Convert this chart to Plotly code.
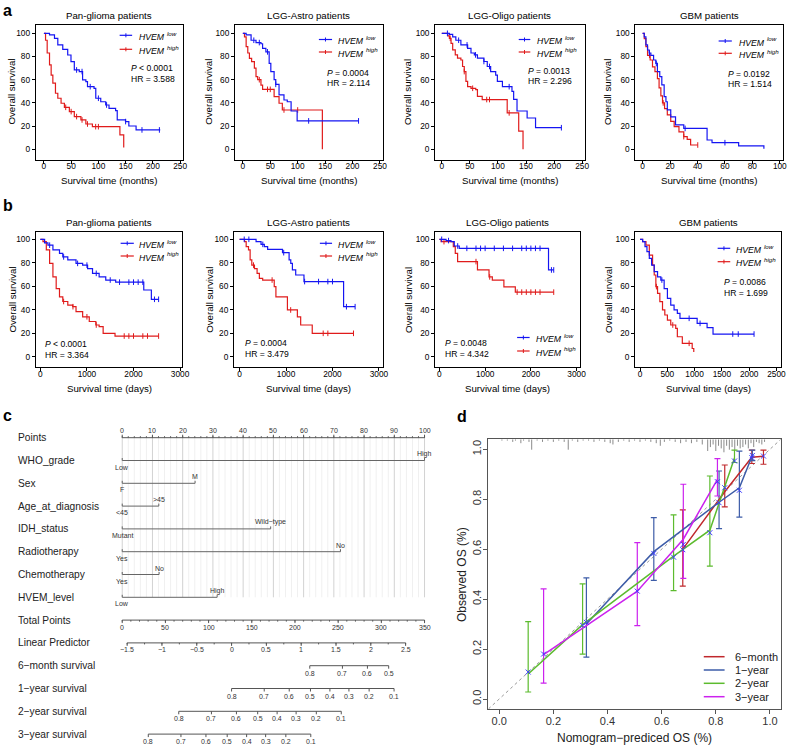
import numpy as np
import plotly.graph_objects as go

# ====================== DATA ======================
# ---- Panel a : survival (months) ----
a1_low_t = [0, 10.3, 19.4, 25.5, 34.6, 43.7, 49.7, 55.8, 64.9, 71, 77, 80, 92, 95.2, 104.3, 113.4, 119.5, 131.6, 134.6, 149.8, 155.9, 169.2, 213.5]
a1_low_s = [100, 98.6, 95.7, 90, 86.2, 81.3, 75.6, 68.4, 67, 59.8, 58.3, 54, 52.6, 44, 41, 38.2, 35.3, 33.3, 25.3, 23.9, 20.1, 16.7, 16.7]
a1_high_t = [0, 3, 6, 10.3, 13.3, 16.4, 21.2, 25.5, 31.5, 37.6, 46.7, 55.8, 67.9, 77, 89, 139.5, 146.5]
a1_high_s = [100, 94, 83, 72.7, 64, 57, 48.3, 44, 39.7, 36.2, 32.5, 28.2, 25.3, 21.8, 19.5, 12.4, 1.5]
a1_low_cens = [60, 70, 85, 100, 115, 150, 180, 212]
a1_high_cens = [40, 50, 60, 70, 80, 95, 100]

a2_low_t = [0, 6, 15, 24, 33, 36, 42, 48, 51, 57, 60, 66, 75, 81, 88, 99, 211]
a2_low_s = [100, 98.6, 94, 92, 91, 87, 84, 74, 67, 60, 56, 47, 42.5, 41, 33, 24.5, 24.5]
a2_high_t = [0, 3, 6, 9, 12, 16, 21, 24, 27, 33, 36, 57, 66, 72, 145]
a2_high_s = [100, 97, 88.5, 83, 78.4, 75.6, 70, 62.6, 60, 55.4, 51.7, 45.4, 39.7, 33.9, 0]
a2_low_cens = [20, 30, 45, 60, 120, 211]
a2_high_cens = [30, 45, 50, 75, 100]

a3_low_t = [0, 13.5, 19.4, 25, 34, 46, 52, 58, 63.5, 75, 81, 87, 96, 99, 108, 125, 128, 134, 152, 167, 213]
a3_low_s = [100, 99, 97, 94, 90, 87, 83, 81.4, 78.6, 75.7, 71.4, 67, 64, 58.6, 54, 50, 43, 33, 27, 18.6, 18.6]
a3_high_t = [0, 10.6, 13.5, 16.5, 19.4, 24, 28, 34, 37, 40, 43, 46, 52, 60.5, 63.5, 72, 116.5, 137, 144.7]
a3_high_s = [100, 97.7, 95.7, 91.4, 85.7, 81.4, 78.6, 77, 71.4, 67, 58.6, 54, 52.6, 51.4, 45.7, 42.9, 31.4, 15.7, 0]
a3_low_cens = [10, 30, 45, 60, 75, 85, 120, 213]
a3_high_cens = [15, 40, 55, 80, 85, 120]

a4_low_t = [0, 1.2, 2.4, 3.6, 4.8, 6, 8, 9.6, 10.8, 12.5, 14, 15.7, 17, 18, 20.5, 24, 30, 47, 50.6, 70, 88.4]
a4_low_s = [100, 97, 90, 85.6, 83, 81, 77, 74, 67, 62.6, 55.5, 45.4, 41, 34, 28, 21, 18, 8, 5.7, 2.9, 0.5]
a4_high_t = [0, 1.2, 2.4, 3.6, 5.5, 7.2, 9, 10.8, 12, 13.3, 14.5, 16, 18, 20.5, 23, 26.5, 30, 32.5, 35, 40.2]
a4_high_s = [100, 95.4, 88.5, 81, 77, 71, 67, 61, 53, 46, 40, 35, 29.6, 24, 19.5, 15, 10.9, 8.6, 3.7, 3.7]
a4_low_cens = [5, 10, 31, 60]
a4_high_cens = [5, 15, 30, 40.2]

# ---- Panel b : survival (days) ----
b1_low_t = [0, 92, 163, 270, 411, 482, 589, 766, 908, 1014, 1120, 1262, 1404, 1617, 2220, 2383, 2539]
b1_low_s = [100, 97, 95, 91, 88, 85, 82.4, 79.5, 78, 75, 71, 68, 65.3, 63.5, 56.8, 48.9, 48.9]
b1_high_t = [0, 57, 128, 199, 270, 340, 411, 482, 589, 695, 766, 908, 1050, 1191, 1262, 1348, 1603, 2539]
b1_high_s = [100, 98, 91, 79.5, 68, 58, 51, 47, 44, 42.6, 38.4, 34, 30, 27, 25.6, 19.9, 17.6, 17.6]
b1_low_cens = [200, 500, 800, 1000, 1200, 1500, 1700, 1900, 2000, 2100, 2200, 2450, 2539]
b1_high_cens = [500, 700, 1000, 1200, 1800, 1900, 2000, 2200, 2300, 2539]

b2_low_t = [0, 355, 462, 533, 604, 924, 1066, 1102, 1137, 1208, 1386, 2239, 2487]
b2_low_s = [100, 98, 95.7, 93.8, 91.5, 88.6, 82.4, 79.5, 74, 69.6, 64, 42.6, 42.6]
b2_high_t = [0, 107, 142, 192, 227, 263, 320, 377, 426, 497, 746, 782, 1030, 1244, 1315, 1564, 2452]
b2_high_s = [100, 98, 93.8, 91, 82.4, 78, 75, 71, 66.8, 65.3, 59.7, 51, 39.8, 34, 27, 19.9, 19.9]
b2_low_cens = [100, 200, 500, 950, 1400, 1700, 1900, 2000, 2300, 2487]
b2_high_cens = [300, 700, 1100, 1800, 1900, 2452]

b3_low_t = [0, 145, 253, 325, 434, 2386, 2500]
b3_low_s = [100, 98.9, 98, 94.3, 92.3, 73.9, 73.9]
b3_high_t = [0, 36, 304, 347, 398, 832, 1085, 1157, 1410, 1660, 2500]
b3_high_s = [100, 98, 93.8, 88, 81, 73.9, 68, 65.3, 59.5, 55, 55]
b3_low_cens = [50, 200, 400, 600, 800, 900, 1000, 1200, 1400, 1600, 1800, 1900, 2000, 2100, 2200, 2450, 2500]
b3_high_cens = [100, 800, 1100, 1700, 1800, 1900, 2000, 2100, 2200, 2500]

b4_low_t = [0, 48, 91, 127, 170, 212, 260, 321, 381, 442, 502, 563, 624, 684, 732, 1047, 1229, 1338, 2090]
b4_low_s = [100, 98, 93.8, 89.5, 83.8, 78, 72.4, 68, 65.3, 58, 49.7, 44, 39.8, 36.9, 32.7, 28.4, 24.7, 19.3, 19.3]
b4_high_t = [0, 48, 109, 170, 230, 260, 290, 321, 363, 412, 454, 502, 563, 654, 684, 775, 956, 985]
b4_high_s = [100, 98, 95, 86.6, 78, 69.6, 59.7, 54, 46.9, 39.8, 35.5, 31.2, 27, 24.1, 17, 11.4, 7, 4]
b4_low_cens = [400, 900, 1100, 1700, 1800, 2090]
b4_high_cens = [300, 600, 900]

titles = ["Pan-glioma patients", "LGG-Astro patients", "LGG-Oligo patients", "GBM patients"]
p_rel_a = ["&lt; 0.0001", "= 0.0004", "= 0.0013", "= 0.0192"]
hr_text_a = ["HR = 3.588", "HR = 2.114", "HR = 2.296", "HR = 1.514"]
p_rel_b = ["&lt; 0.0001", "= 0.0004", "= 0.0048", "= 0.0086"]
hr_text_b = ["HR = 3.364", "HR = 3.479", "HR = 4.342", "HR = 1.699"]
xmax_a = [250, 250, 250, 100]
dtick_a = [50, 50, 50, 20]
xmax_b = [3000, 3000, 3000, 2500]
dtick_b = [1000, 1000, 1000, 500]
y_ticks_km = [0, 20, 40, 60, 80, 100]

# ---- Panel c : nomogram ----
nomo_vars = ["WHO_grade", "Sex", "Age_at_diagnosis", "IDH_status", "Radiotherapy", "Chemotherapy", "HVEM_level"]
nomo_low_labels = ["Low", "F", "&lt;45", "Mutant", "Yes", "Yes", "Low"]
nomo_high_labels = ["High", "M", "&gt;45", "Wild\u2212type", "No", "No", "High"]
nomo_high_points = [100, 24.1, 12.1, 49.1, 72.2, 12.2, 31.4]
points_ticks = list(range(0, 101, 10))
total_points_ticks = [0, 50, 100, 150, 200, 250, 300, 350]
total_points_max = 350
lp_total_at_zero = 126.6
lp_total_per_unit = 80.6
lp_ticks = [-1.5, -1, -0.5, 0, 0.5, 1, 1.5, 2, 2.5]
surv_rows = ["6\u2212month survival", "1\u2212year survival", "2\u2212year survival", "3\u2212year survival"]
surv_baseline = [0.930, 0.800, 0.621, 0.478]
surv_ticks = [[0.8, 0.7, 0.6, 0.5],
              [0.8, 0.7, 0.6, 0.5, 0.4, 0.3, 0.2, 0.1],
              [0.8, 0.7, 0.6, 0.5, 0.4, 0.3, 0.2, 0.1],
              [0.8, 0.7, 0.6, 0.5, 0.4, 0.3, 0.2, 0.1]]

# ---- Panel d : calibration ----
cal_names = ["6\u2212month", "1\u2212year", "2\u2212year", "3\u2212year"]
m6_pred = [0.678, 0.833, 0.933, 0.976]
m6_obs = [0.600, 0.830, 0.968, 0.972]
m6_lo = [0.452, 0.769, 0.943, 0.940]
m6_hi = [0.757, 0.937, 0.997, 0.997]
m6_corr = [0.598, 0.846, 0.967, 0.973]
y1_pred = [0.322, 0.571, 0.812, 0.887, 0.935]
y1_obs = [0.300, 0.590, 0.788, 0.846, 0.975]
y1_lo = [0.168, 0.475, 0.682, 0.728, 0.955]
y1_hi = [0.485, 0.726, 0.913, 0.993, 0.997]
y1_corr = [0.307, 0.583, 0.786, 0.836, 0.975]
y2_pred = [0.107, 0.308, 0.644, 0.778, 0.869]
y2_obs = [0.100, 0.298, 0.572, 0.676, 0.965]
y2_lo = [0.028, 0.180, 0.434, 0.532, 0.947]
y2_hi = [0.310, 0.461, 0.737, 0.893, 0.997]
y2_corr = [0.108, 0.295, 0.568, 0.666, 0.953]
y3_pred = [0.164, 0.510, 0.680, 0.806]
y3_obs = [0.178, 0.432, 0.640, 0.880]
y3_lo = [0.064, 0.294, 0.483, 0.813]
y3_hi = [0.441, 0.626, 0.860, 0.963]
y3_corr = [0.180, 0.432, 0.619, 0.870]
cal_ticks = [0.0, 0.2, 0.4, 0.6, 0.8, 1.0]
rug_x = [0.01, 0.03, 0.05, 0.06, 0.08, 0.09, 0.11, 0.12, 0.14, 0.16, 0.18, 0.20, 0.22, 0.24, 0.255,
         0.27, 0.29, 0.31, 0.33, 0.35, 0.37, 0.39, 0.41, 0.42, 0.44, 0.46, 0.48, 0.50, 0.52, 0.54,
         0.56, 0.58, 0.595, 0.61, 0.63, 0.65, 0.67, 0.69, 0.71, 0.73, 0.75, 0.77, 0.78, 0.79, 0.80,
         0.81, 0.82, 0.83, 0.84, 0.85, 0.86, 0.87, 0.88, 0.89, 0.90, 0.91, 0.92, 0.93, 0.94, 0.95,
         0.96, 0.97, 0.98]
rug_count = [1, 1, 2, 1, 3, 1, 2, 8, 1, 2, 1, 2, 1, 2, 8,
             1, 2, 1, 1, 2, 1, 2, 3, 4, 2, 1, 2, 1, 2, 1,
             2, 3, 5, 2, 1, 2, 3, 2, 3, 2, 4, 9, 6, 4, 9,
             5, 7, 10, 5, 8, 6, 9, 5, 7, 6, 4, 7, 3, 6, 2,
             3, 4, 2]

# ====================== FIGURE ======================
W, H = 798, 747
FONT = "Liberation Sans, Arial, Helvetica, sans-serif"
BLUE = "#1515f2"
RED = "#e01b1b"
CAL_COLORS = ["#c0282c", "#3d5ca8", "#5cbb2e", "#cc22ee"]


def fx(p):
    return p / W


def fy(p):
    return 1 - p / H


def step_at(t, s, tc):
    t = np.asarray(t, float)
    s = np.asarray(s, float)
    idx = np.searchsorted(t, np.asarray(tc, float), side="right") - 1
    return s[np.clip(idx, 0, len(s) - 1)]


fig = go.Figure()
lay = {}
ann = []
shp = []


def names(n):
    xs = "x" if n == 1 else f"x{n}"
    ys = "y" if n == 1 else f"y{n}"
    xk = "xaxis" if n == 1 else f"xaxis{n}"
    yk = "yaxis" if n == 1 else f"yaxis{n}"
    return xs, ys, xk, yk


def text(x, y, s, size, xanchor="center", yanchor="middle", angle=0, color="#000", weight="normal",
         style="normal", **kw):
    d = dict(x=x, y=y, text=s, showarrow=False, xanchor=xanchor, yanchor=yanchor,
             textangle=angle, font=dict(size=size, color=color, family=FONT, weight=weight, style=style))
    d.setdefault("xref", "paper")
    d.setdefault("yref", "paper")
    d.update(kw)
    ann.append(d)


# ---------- KM panels ----------
km_data = [
    (a1_low_t, a1_low_s, a1_high_t, a1_high_s, a1_low_cens, a1_high_cens),
    (a2_low_t, a2_low_s, a2_high_t, a2_high_s, a2_low_cens, a2_high_cens),
    (a3_low_t, a3_low_s, a3_high_t, a3_high_s, a3_low_cens, a3_high_cens),
    (a4_low_t, a4_low_s, a4_high_t, a4_high_s, a4_low_cens, a4_high_cens),
    (b1_low_t, b1_low_s, b1_high_t, b1_high_s, b1_low_cens, b1_high_cens),
    (b2_low_t, b2_low_s, b2_high_t, b2_high_s, b2_low_cens, b2_high_cens),
    (b3_low_t, b3_low_s, b3_high_t, b3_high_s, b3_low_cens, b3_high_cens),
    (b4_low_t, b4_low_s, b4_high_t, b4_high_s, b4_low_cens, b4_high_cens),
]
# frame left, right, px of x=0, px of x=max
frames = [(36, 184.5, 44.3, 181.7), (237, 386, 245, 383.3), (439, 590, 445.7, 587.3), (641, 790, 648.3, 786.7),
          (36, 184, 40.7, 181.7), (236, 386.7, 241.7, 382.3), (439, 585, 443.3, 581.7), (640.7, 788.3, 645.7, 783.3)]
rows = [dict(t=25, b=159.5, y100=33.3, y0=149.3, title=15, xt=180, yt=92),
        dict(t=232.3, b=366.7, y100=239.3, y0=356.7, title=222.7, xt=388, yt=300)]
ytitle_x = [11.7, 210.7, 411.7, 613.3]
p_pos = [(130, 68.3), (328.3, 72.7), (530.7, 70.7), (732.3, 74),
         (43.3, 344.3), (245, 343.3), (446.7, 343.3), (728.3, 282.3)]
leg_pos = [(120.7, 133.3, 35.3, 49.3, 138.3), (321.7, 335, 39.5, 52, 339.3), (523.3, 535, 39.5, 52, 540),
           (725, 738.3, 41, 53.3, 743.3), (121.7, 135, 243.3, 256, 138.3), (322.7, 335, 243.3, 256, 339.3),
           (521.7, 534.3, 337.5, 351, 538.3), (724, 736.7, 248.3, 261.7, 740.7)]

for i in range(8):
    n = i + 1
    xs, ys, xk, yk = names(n)
    r = rows[i // 4]
    l, rr, z, m = frames[i]
    xmax = (xmax_a + xmax_b)[i]
    dt = (dtick_a + dtick_b)[i]
    sc = (m - z) / xmax
    xr = [(l - z) / sc, (rr - z) / sc]
    ysc = (r["y0"] - r["y100"]) / 100
    yr = [-(r["b"] - r["y0"]) / ysc, 100 + (r["y100"] - r["t"]) / ysc]
    axis_common = dict(showline=True, mirror=True, linecolor="#000", linewidth=1, ticks="outside",
                       ticklen=3, tickwidth=1, tickcolor="#000", showgrid=False, zeroline=False,
                       tickfont=dict(size=8.3, color="#000", family=FONT))
    lay[xk] = dict(domain=[fx(l), fx(rr)], range=xr, anchor=ys, ticklabelstandoff=-4,
                   tickvals=list(range(0, xmax + 1, dt)), **axis_common)
    lay[yk] = dict(domain=[fy(r["b"]), fy(r["t"])], range=yr, anchor=xs,
                   tickvals=y_ticks_km, **axis_common)
    lt, ls, ht, hs, lc, hc = km_data[i]
    for tt, ss, cc, col in ((ht, hs, hc, RED), (lt, ls, lc, BLUE)):
        fig.add_trace(go.Scatter(x=tt, y=ss, mode="lines", line=dict(color=col, width=1.2, shape="hv"),
                                 xaxis=xs, yaxis=ys, hoverinfo="skip"))
        fig.add_trace(go.Scatter(x=cc, y=step_at(tt, ss, cc), mode="markers",
                                 marker=dict(symbol="line-ns", size=4, line=dict(color=col, width=1)),
                                 xaxis=xs, yaxis=ys, hoverinfo="skip"))
    cx = (l + rr) / 2
    text(fx(cx), fy(r["title"]), titles[i % 4], 9.7)
    unit = "months" if i < 4 else "days"
    text(fx(cx), fy(r["xt"]), f"Survival time ({unit})", 9.7)
    text(fx(ytitle_x[i % 4]), fy(r["yt"]), "Overall survival", 9.7, angle=-90)
    prel = (p_rel_a + p_rel_b)[i]
    hrtxt = (hr_text_a + hr_text_b)[i]
    px_, py_ = p_pos[i]
    text(fx(px_), fy(py_), "P", 8.6, xanchor="left", style="italic")
    text(fx(px_ + 8.1), fy(py_), prel, 8.6, xanchor="left")
    text(fx(px_), fy(py_ + 10.3), hrtxt, 8.6, xanchor="left")
    x0, x1, yl, yh, tx = leg_pos[i]
    for yy, col, lab in ((yl, BLUE, "low"), (yh, RED, "high")):
        shp.append(dict(type="line", xref="paper", yref="paper", x0=fx(x0), x1=fx(x1), y0=fy(yy), y1=fy(yy),
                        line=dict(color=col, width=1.2)))
        xm = (x0 + x1) / 2
        shp.append(dict(type="line", xref="paper", yref="paper", x0=fx(xm), x1=fx(xm), y0=fy(yy - 2), y1=fy(yy + 2),
                        line=dict(color=col, width=1)))
        text(fx(tx), fy(yy + 1.5), "HVEM", 8.7, xanchor="left", style="italic")
        text(fx(tx + 28.3), fy(yy - 2.2), lab, 6.2, xanchor="left", style="italic")

# ---------- Nomogram (panel c) ----------
ROW0, ROWH = 437.7, 22.8
PT_PX = 3.05
nx0 = 123.3
lay["xaxis9"] = dict(domain=[fx(nx0 - 2 * PT_PX), fx(nx0 + 102 * PT_PX)], range=[-2, 102], anchor="y9", visible=False)
top_px, bot_px = 420, 747
lay["yaxis9"] = dict(domain=[fy(bot_px), fy(top_px)],
                     range=[(bot_px - ROW0) / ROWH, (top_px - ROW0) / ROWH], anchor="x9", visible=False)
pxr = 1 / ROWH  # one pixel in row units


def segs(pairs):
    xs_, ys_ = [], []
    for (xa, ya, xb, yb) in pairs:
        xs_ += [xa, xb, None]
        ys_ += [ya, yb, None]
    return xs_, ys_


def nomo_line(pairs, color, width=1):
    xx, yy = segs(pairs)
    fig.add_trace(go.Scatter(x=xx, y=yy, mode="lines", line=dict(color=color, width=width),
                             xaxis="x9", yaxis="y9", hoverinfo="skip"))


# grid
minor_grid = [v for v in np.arange(0, 100.1, 2) if v % 10 != 0]
nomo_line([(v, 0, v, 7) for v in minor_grid], "#f0f0f0", 1)
nomo_line([(v, 0, v, 7) for v in points_ticks], "#d2d2d2", 1)

AX = "#555"
LBL = 7
# Points axis (row 0) with ticks up, labels above
nomo_line([(0, 0, 100, 0)], AX)
nomo_line([(v, 0, v, -3 * pxr) for v in points_ticks] +
          [(v, 0, v, -1.5 * pxr) for v in np.arange(0, 100.1, 2)], AX)
for v in points_ticks:
    text(v, 0, f"{v}", LBL, xref="x9", yref="y9", yshift=7, color="#333")

# variable rows
for k, var in enumerate(nomo_vars):
    rr_ = k + 1
    hp = nomo_high_points[k]
    nomo_line([(0, rr_, hp, rr_)], "#666")
    nomo_line([(0, rr_, 0, rr_ - 2.5 * pxr), (hp, rr_, hp, rr_ - 2.5 * pxr)], "#666")
    text(0, rr_, nomo_low_labels[k], LBL, xref="x9", yref="y9", yshift=-6.5, color="#333")
    text(hp, rr_, nomo_high_labels[k], LBL, xref="x9", yref="y9", yshift=6.5, color="#333")


def tp_to_pts(tp):
    return np.asarray(tp, float) * 100 / total_points_max


# Total points (row 8)
tp_row = 8
nomo_line([(0, tp_row, 100, tp_row)], AX)
minor_tp = tp_to_pts(np.arange(0, 351, 10))
nomo_line([(v, tp_row, v, tp_row + 3 * pxr) for v in tp_to_pts(total_points_ticks)] +
          [(v, tp_row, v, tp_row + 1.5 * pxr) for v in minor_tp], AX)
for v, p in zip(total_points_ticks, tp_to_pts(total_points_ticks)):
    text(p, tp_row, f"{v}", LBL, xref="x9", yref="y9", yshift=-7, color="#333")


def lp_to_pts(lp):
    return tp_to_pts(lp_total_at_zero + lp_total_per_unit * np.asarray(lp, float))


def fmt_num(v):
    s = f"{v:g}"
    return s.replace("-", "\u2212")


# Linear predictor (row 9)
lp_row = 9
lp_pts = lp_to_pts(lp_ticks)
nomo_line([(lp_pts[0], lp_row, lp_pts[-1], lp_row)], AX)
minor_lp = lp_to_pts(np.arange(lp_ticks[0], lp_ticks[-1] + 1e-9, 0.25))
nomo_line([(v, lp_row, v, lp_row + 3 * pxr) for v in lp_pts] +
          [(v, lp_row, v, lp_row + 1.5 * pxr) for v in minor_lp], AX)
for v, p in zip(lp_ticks, lp_pts):
    text(p, lp_row, fmt_num(v), LBL, xref="x9", yref="y9", yshift=-7, color="#333")

# survival rows
for k, s0 in enumerate(surv_baseline):
    row = 10 + k
    st = np.asarray(surv_ticks[k], float)
    lp = np.log(np.log(st) / np.log(s0))
    pts = lp_to_pts(lp)
    nomo_line([(pts.min(), row, pts.max(), row)], AX)
    nomo_line([(v, row, v, row + 3 * pxr) for v in pts], AX)
    for v, p in zip(surv_ticks[k], pts):
        text(p, row, f"{v:g}", LBL, xref="x9", yref="y9", yshift=-7.5, color="#333")

row_labels = ["Points"] + nomo_vars + ["Total Points", "Linear Predictor"] + surv_rows
for k, lab in enumerate(row_labels):
    text(fx(16), k, lab, 10.2, xanchor="left", yref="y9", color="#222")

# ---------- Calibration (panel d) ----------
cx_l, cx_r, cy_t, cy_b = 492.7, 787.7, 439.3, 709.0
cal_axis = dict(showline=True, mirror=True, linecolor="#555", linewidth=1, ticks="outside", ticklen=4,
                tickcolor="#555", tickvals=cal_ticks, ticktext=[f"{v:.1f}" for v in cal_ticks],
                tickfont=dict(size=11, color="#333", family=FONT), showgrid=False, zeroline=False,
                range=[-0.04, 1.04], ticklabelstandoff=-2)
lay["xaxis10"] = dict(domain=[fx(cx_l), fx(cx_r)], anchor="y10", **cal_axis)
lay["yaxis10"] = dict(domain=[fy(cy_b), fy(cy_t)], anchor="x10", tickangle=-90, **cal_axis)

# diagonal reference
fig.add_trace(go.Scatter(x=[-0.04, 1.04], y=[-0.04, 1.04], mode="lines",
                         line=dict(color="#999", width=1, dash="dot"), xaxis="x10", yaxis="y10", hoverinfo="skip"))
# rug / risk distribution
rx, ry = [], []
for xv, cnt in zip(rug_x, rug_count):
    rx += [xv, xv, None]
    ry += [1.04, 1.04 - cnt * 0.0052, None]
fig.add_trace(go.Scatter(x=rx, y=ry, mode="lines", line=dict(color="#8a8a8a", width=1),
                         xaxis="x10", yaxis="y10", hoverinfo="skip"))

cal_series = [(m6_pred, m6_obs, m6_lo, m6_hi, m6_corr), (y1_pred, y1_obs, y1_lo, y1_hi, y1_corr),
              (y2_pred, y2_obs, y2_lo, y2_hi, y2_corr), (y3_pred, y3_obs, y3_lo, y3_hi, y3_corr)]
for (pr, ob, lo, hi, co), col in zip(cal_series, CAL_COLORS):
    pr_, ob_, lo_, hi_ = map(lambda a: np.asarray(a, float), (pr, ob, lo, hi))
    fig.add_trace(go.Scatter(x=pr_, y=ob_, mode="markers", marker=dict(size=1, color="rgba(0,0,0,0)"),
                             error_y=dict(type="data", symmetric=False, array=hi_ - ob_, arrayminus=ob_ - lo_,
                                          color=col, thickness=1.2, width=3),
                             xaxis="x10", yaxis="y10", hoverinfo="skip"))
for (pr, ob, lo, hi, co), col in zip(cal_series, CAL_COLORS):
    fig.add_trace(go.Scatter(x=pr, y=ob, mode="lines", line=dict(color=col, width=1.5),
                             xaxis="x10", yaxis="y10", hoverinfo="skip"))
for (pr, ob, lo, hi, co), col in zip(cal_series, CAL_COLORS):
    fig.add_trace(go.Scatter(x=pr, y=co, mode="markers",
                             marker=dict(symbol="x-thin", size=5, line=dict(color="#3a3aff", width=1)),
                             xaxis="x10", yaxis="y10", hoverinfo="skip"))

text(fx((cx_l + cx_r) / 2), fy(738.3), "Nomogram\u2212prediced OS (%)", 12, color="#222")
text(fx(466), fy((cy_t + cy_b) / 2), "Observed OS (%)", 12, angle=-90, color="#222")
leg_y = [656.7, 670, 683.3, 696.7]
for nm, col, yy in zip(cal_names, CAL_COLORS, leg_y):
    shp.append(dict(type="line", xref="paper", yref="paper", x0=fx(710), x1=fx(731), y0=fy(yy), y1=fy(yy),
                    line=dict(color=col, width=1.5)))
    text(fx(739.3), fy(yy), nm, 11, xanchor="left", color="#222")

# ---------- panel letters ----------
text(fx(1), fy(0), "a", 16, xanchor="left", yanchor="top", weight="bold")
text(fx(1), fy(205), "b", 16, xanchor="left", weight="bold")
text(fx(1), fy(415.5), "c", 16, xanchor="left", weight="bold")
text(fx(459), fy(417), "d", 16, xanchor="left", weight="bold")

fig.update_layout(width=W, height=H, margin=dict(l=0, r=0, t=0, b=0), paper_bgcolor="white",
                  plot_bgcolor="white", showlegend=False, font=dict(family=FONT, color="#000"),
                  annotations=ann, shapes=shp, **lay)
fig.write_html("out.html", config={"displayModeBar": False, "staticPlot": True},
               post_script="document.body.style.margin='0px';document.body.style.overflow='hidden';")
